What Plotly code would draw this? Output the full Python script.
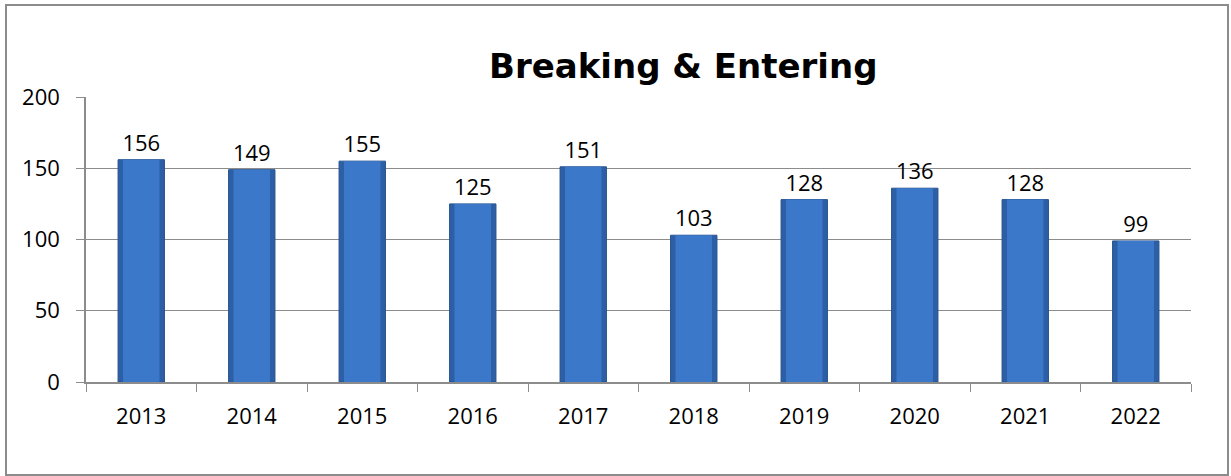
import plotly.graph_objects as go

years = ["2013", "2014", "2015", "2016", "2017", "2018", "2019", "2020", "2021", "2022"]
counts = [156, 149, 155, 125, 151, 103, 128, 136, 128, 99]
y_ticks = [0, 50, 100, 150, 200]

FONT = "Open Sans"
W, H = 1231, 476
L, R, T, B = 86, 40, 97, 94
PW, PH = W - L - R, H - T - B


def px_x(x):
    return (x - L) / PW


def px_y(y):
    return (H - B - y) / PH


fig = go.Figure()
# main bar (darker edges)
fig.add_trace(go.Bar(
    x=years, y=counts, width=0.42,
    marker=dict(color="#2C5FA6", line=dict(color="#28558F", width=1)),
    text=[str(v) for v in counts], textposition="outside",
    textfont=dict(family=FONT, size=22, color="black"),
    cliponaxis=False, hoverinfo="skip", showlegend=False,
))
# lighter central face to mimic bevel shading
fig.add_trace(go.Bar(
    x=years, y=counts, width=0.33,
    marker=dict(color="#3C78CA", line=dict(width=0)),
    hoverinfo="skip", showlegend=False,
))

fig.update_layout(
    width=W, height=H,
    barmode="overlay",
    paper_bgcolor="white", plot_bgcolor="white",
    margin=dict(l=L, r=R, t=T, b=B),
    font=dict(family=FONT, size=22, color="black"),
    xaxis=dict(
        type="category", showgrid=False, showline=True, linecolor="#8C8C8C", linewidth=1.5,
        ticks="outside", ticklen=8, tickcolor="#8C8C8C", tickson="boundaries",
        tickfont=dict(family=FONT, size=22, color="black"), ticklabelstandoff=14,
    ),
    yaxis=dict(
        range=[0, 200], tickvals=y_ticks, showgrid=True, gridcolor="#8C8C8C", gridwidth=1,
        showline=True, linecolor="#8C8C8C", linewidth=1.5, zeroline=False,
        ticks="outside", ticklen=8, tickcolor="#8C8C8C",
        tickfont=dict(family=FONT, size=22, color="black"), ticklabelstandoff=12,
    ),
    shapes=[dict(type="rect", xref="paper", yref="paper",
                 x0=px_x(6), x1=px_x(1228), y0=px_y(475), y1=px_y(5),
                 line=dict(color="#8C8C8C", width=2), fillcolor="rgba(0,0,0,0)", layer="below")],
    annotations=[dict(text="<b>Breaking &amp; Entering</b>", x=px_x(683), xref="paper",
                      y=px_y(66), yref="paper", xanchor="center", yanchor="middle",
                      showarrow=False, font=dict(family="DejaVu Sans", size=34, color="black"))],
)

fig.write_html("out.html", config={"displayModeBar": False},
               post_script="document.body.style.margin='0';document.body.style.overflow='hidden';")
